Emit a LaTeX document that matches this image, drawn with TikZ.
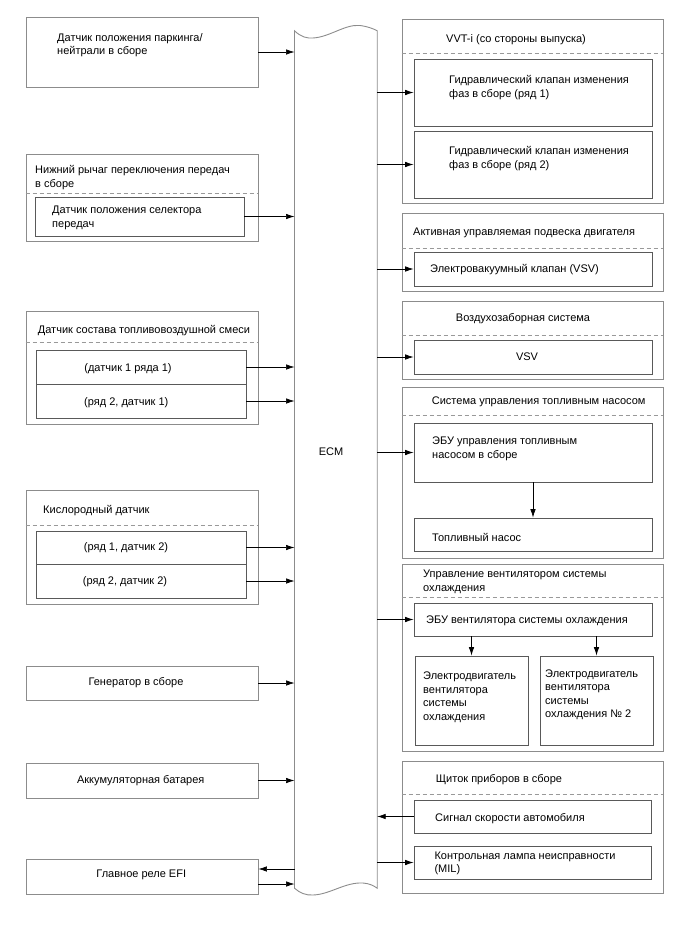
\documentclass[tikz,border=0pt]{standalone}
\usepackage{fontspec}
\setmainfont{Liberation Sans}
\usetikzlibrary{arrows.meta,fit}
\newcommand{\mybox}[6]{\node[#1, fit={(#3,#4) (#5,#6)}] (#2) {};}
\begin{document}
\begin{tikzpicture}[x=1bp,y=-1bp,
  obox/.style={draw=black!45, line width=0.9bp, inner sep=0pt},
  ibox/.style={draw=black!65, line width=0.8bp, inner sep=0pt},
  dsh/.style={draw=black!40, dash pattern=on 4bp off 3bp, line width=0.8bp},
  ecml/.style={draw=black!45, line width=0.9bp},
  arr/.style={draw=black, line width=0.7bp, -{Latex[length=8.5bp,width=5.5bp]}},
  txt/.style={font=\fontsize{11bp}{13.5bp}\selectfont, inner sep=0pt, align=left, text=black},
]
\useasboundingbox (0,0) rectangle (688,949);

% ---------- ECM ----------
\node[inner sep=0pt, fit={(294.7,31) (377,888)}] (ecm) {};
\draw[ecml] (ecm.north west) .. controls (301,37) and (307,38.5) .. (313,38)
  .. controls (330,37) and (345,24) .. (360,25.5)
  .. controls (368,26.5) and (374,29) .. (ecm.north east)
  -- (ecm.south east) .. controls (374,886) and (370,883.5) .. (363,883)
  .. controls (345,882) and (330,894.5) .. (313,895)
  .. controls (306,895.5) and (300,893) .. (ecm.south west) -- cycle;
\node[txt] (tEcm) at (331,452) {ECM};

% ---------- left side ----------
\mybox{obox}{park}{26}{17}{258}{87}
\node[txt, anchor=west] (tPark) at (57,45) {Датчик положения паркинга/\\нейтрали в сборе};

\mybox{obox}{lever}{26}{154}{258}{241}
\draw[dsh] (lever.west |- 0,193) -- (lever.east |- 0,193);
\node[txt, anchor=west] (tLever) at (35,177.5) {Нижний рычаг переключения передач\\в сборе};
\mybox{ibox}{sel}{35}{197}{244}{236}
\node[txt, anchor=west] (tSel) at (52,218) {Датчик положения селектора\\передач};

\mybox{obox}{mix}{26}{311}{258}{424}
\draw[dsh] (mix.west |- 0,342) -- (mix.east |- 0,342);
\node[txt, anchor=west] (tMix) at (37.7,331) {Датчик состава топливовоздушной смеси};
\mybox{ibox}{af1}{36}{350}{246}{384}
\mybox{ibox}{af2}{36}{384}{246}{418}
\node[txt] (tAf1) at (128,368.5) {(датчик 1 ряда 1)};
\node[txt] (tAf2) at (126.3,402.5) {(ряд 2, датчик 1)};

\mybox{obox}{oxy}{26}{490}{258}{604}
\draw[dsh] (oxy.west |- 0,525) -- (oxy.east |- 0,525);
\node[txt, anchor=west] (tOxy) at (43,511) {Кислородный датчик};
\mybox{ibox}{ox1}{36}{531}{246}{564}
\mybox{ibox}{ox2}{36}{564}{246}{598}
\node[txt] (tOx1) at (126,547.5) {(ряд 1, датчик 2)};
\node[txt] (tOx2) at (125,582) {(ряд 2, датчик 2)};

\mybox{obox}{gen}{26}{666}{258}{700}
\node[txt] (tGen) at (136,683) {Генератор в сборе};
\mybox{obox}{bat}{26}{763}{258}{798}
\node[txt] (tBat) at (140.7,780.5) {Аккумуляторная батарея};
\mybox{obox}{efi}{26}{859}{258}{894}
\node[txt] (tEfi) at (141.3,875) {Главное реле EFI};

% left arrows
\draw[arr] (park.east) -- (park.east -| ecm.west);
\draw[arr] (sel.east) -- (sel.east -| ecm.west);
\draw[arr] (af1.east) -- (af1.east -| ecm.west);
\draw[arr] (af2.east) -- (af2.east -| ecm.west);
\draw[arr] (ox1.east) -- (ox1.east -| ecm.west);
\draw[arr] (ox2.east) -- (ox2.east -| ecm.west);
\draw[arr] (gen.east) -- (gen.east -| ecm.west);
\draw[arr] (bat.east) -- (bat.east -| ecm.west);
\coordinate (efiA) at ([yshift=7.5bp]efi.east);
\coordinate (efiB) at ([yshift=-7.5bp]efi.east);
\draw[arr] (efiA -| ecm.west) -- (efiA);
\draw[arr] (efiB) -- (efiB -| ecm.west);

% ---------- right side ----------
\mybox{obox}{vvt}{402}{19}{663}{203}
\draw[dsh] (vvt.west |- 0,53) -- (vvt.east |- 0,53);
\node[txt, anchor=west] (tVvt) at (446,40) {VVT-i (со стороны выпуска)};
\mybox{ibox}{v1}{414}{59}{652}{126}
\node[txt, anchor=west] (tV1) at (449,87.5) {Гидравлический клапан изменения\\фаз в сборе (ряд 1)};
\mybox{ibox}{v2}{414}{131}{652}{198}
\node[txt, anchor=west] (tV2) at (449,158.5) {Гидравлический клапан изменения\\фаз в сборе (ряд 2)};

\mybox{obox}{acm}{402}{213}{663}{291}
\draw[dsh] (acm.west |- 0,248) -- (acm.east |- 0,248);
\node[txt, anchor=west] (tAcm) at (413,233) {Активная управляемая подвеска двигателя};
\mybox{ibox}{vsv1}{414}{252}{652}{286}
\node[txt, anchor=west] (tVsv1) at (430,269.5) {Электровакуумный клапан (VSV)};

\mybox{obox}{air}{402}{301}{663}{379}
\draw[dsh] (air.west |- 0,335) -- (air.east |- 0,335);
\node[txt] (tAir) at (523,319) {Воздухозаборная система};
\mybox{ibox}{vsv2}{414}{340}{652}{374}
\node[txt] (tVsv2) at (527,357) {VSV};

\mybox{obox}{fuel}{402}{387}{663}{558}
\draw[dsh] (fuel.west |- 0,415) -- (fuel.east |- 0,415);
\node[txt, anchor=west] (tFuel) at (431.7,402) {Система управления топливным насосом};
\mybox{ibox}{ebuF}{414}{423}{652}{482}
\node[txt, anchor=west] (tEbuF) at (432,449) {ЭБУ управления топливным\\насосом в сборе};
\mybox{ibox}{pump}{414}{518}{652}{551}
\node[txt, anchor=west] (tPump) at (432,537) {Топливный насос};
\draw[arr] (ebuF.south) -- (pump.north);

\mybox{obox}{fan}{402}{564}{663}{751}
\draw[dsh] (fan.west |- 0,597) -- (fan.east |- 0,597);
\node[txt, anchor=west] (tFan) at (423,582) {Управление вентилятором системы\\охлаждения};
\mybox{ibox}{ebuV}{414}{603}{652}{636}
\node[txt, anchor=west] (tEbuV) at (426,620.5) {ЭБУ вентилятора системы охлаждения};
\mybox{ibox}{m1}{415}{656}{528}{745}
\mybox{ibox}{m2}{540}{656}{653}{745}
\node[txt, anchor=west] (tM1) at (423,697) {Электродвигатель\\вентилятора\\системы\\охлаждения};
\node[txt, anchor=west] (tM2) at (545,694.5) {Электродвигатель\\вентилятора\\системы\\охлаждения № 2};
\draw[arr] (m1.north |- ebuV.south) -- (m1.north);
\draw[arr] (m2.north |- ebuV.south) -- (m2.north);

\mybox{obox}{meter}{402}{761}{663}{893}
\draw[dsh] (meter.west |- 0,794) -- (meter.east |- 0,794);
\node[txt, anchor=west] (tMeter) at (435.7,780) {Щиток приборов в сборе};
\mybox{ibox}{spd}{414}{800}{651}{833}
\node[txt, anchor=west] (tSpd) at (435,818.5) {Сигнал скорости автомобиля};
\mybox{ibox}{mil}{414}{846}{651}{879}
\node[txt, anchor=west] (tMil) at (434.3,863.5) {Контрольная лампа неисправности\\(MIL)};

% right arrows
\draw[arr] (v1.west -| ecm.east) -- (v1.west);
\draw[arr] (v2.west -| ecm.east) -- (v2.west);
\draw[arr] (vsv1.west -| ecm.east) -- (vsv1.west);
\draw[arr] (vsv2.west -| ecm.east) -- (vsv2.west);
\draw[arr] (ebuF.west -| ecm.east) -- (ebuF.west);
\draw[arr] (ebuV.west -| ecm.east) -- (ebuV.west);
\draw[arr] (spd.west) -- (spd.west -| ecm.east);
\draw[arr] (mil.west -| ecm.east) -- (mil.west);
\end{tikzpicture}
\end{document}
